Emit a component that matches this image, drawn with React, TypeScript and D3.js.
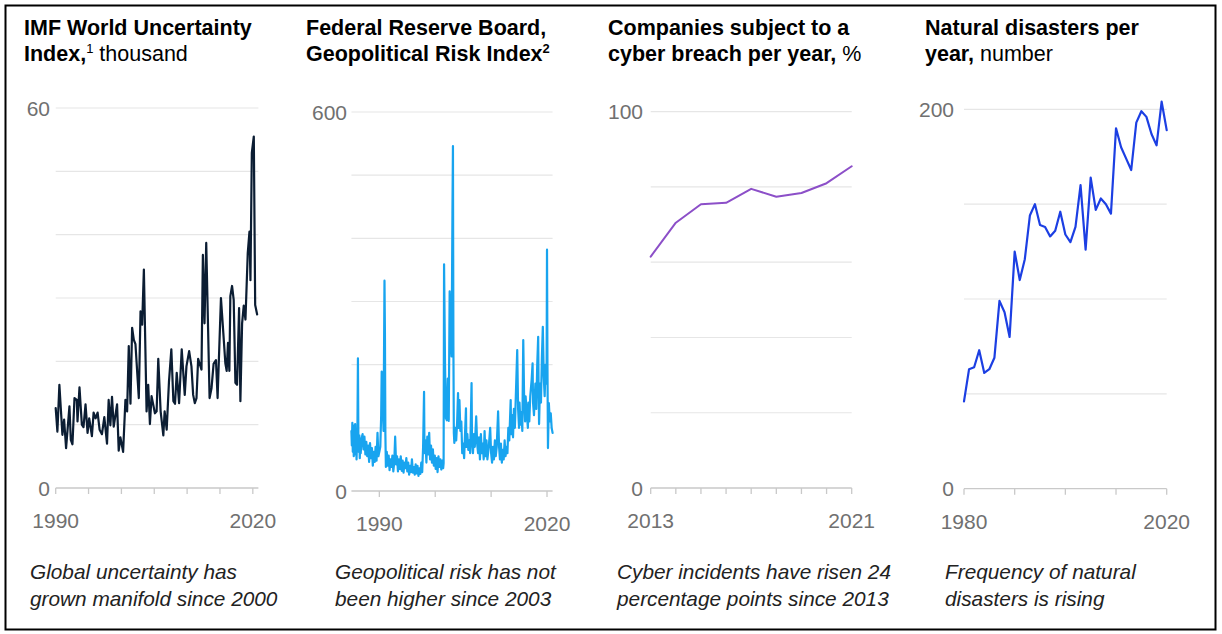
import React from "react";
import * as d3 from "d3";

type Pt = [number, number];

// IMF World Uncertainty Index, thousand — [year, value]
const wuiPoints: Pt[] = [
  [1990.0, 12.6], [1990.26, 8.9], [1990.56, 16.3], [1991.02, 8.4], [1991.28, 10.8], [1991.58, 6.3],
  [1992.09, 12.9], [1992.3, 7.6], [1992.55, 6.9], [1992.86, 14.2], [1993.21, 13.9], [1993.32, 10.5],
  [1993.62, 15.9], [1993.98, 10.0], [1994.23, 9.6], [1994.54, 13.2], [1994.85, 8.7], [1995.1, 11.0],
  [1995.51, 8.2], [1995.77, 11.9], [1996.07, 11.0], [1996.38, 11.9], [1996.68, 9.2], [1997.04, 8.5],
  [1997.4, 11.2], [1997.81, 7.0], [1998.06, 13.9], [1998.32, 9.9], [1998.57, 14.4], [1998.83, 9.7],
  [1999.34, 13.2], [1999.59, 5.9], [1999.85, 8.0], [2000.26, 5.7], [2000.61, 13.9], [2000.87, 12.1],
  [2001.12, 22.4], [2001.38, 13.3], [2001.63, 25.3], [2001.89, 23.4], [2002.14, 22.7], [2002.65, 14.2],
  [2002.91, 27.9], [2003.16, 25.8], [2003.42, 34.5], [2003.83, 12.1], [2004.08, 16.3], [2004.34, 10.1],
  [2004.59, 14.5], [2004.8, 13.4], [2005.1, 11.8], [2005.36, 12.1], [2005.61, 20.4], [2005.97, 12.1],
  [2006.38, 8.3], [2006.58, 12.1], [2006.89, 9.2], [2007.24, 16.8], [2007.6, 21.9], [2007.91, 13.7],
  [2008.16, 13.3], [2008.42, 18.2], [2008.78, 13.4], [2009.18, 21.9], [2009.64, 14.7], [2009.9, 19.2],
  [2010.31, 21.6], [2010.66, 19.2], [2010.92, 14.7], [2011.17, 13.4], [2011.43, 14.2], [2011.68, 20.4],
  [2012.19, 18.7], [2012.4, 36.8], [2012.65, 26.0], [2012.91, 38.7], [2013.42, 14.2], [2013.72, 15.8],
  [2014.03, 19.6], [2014.39, 20.2], [2014.64, 14.2], [2015.15, 30.0], [2015.51, 24.5], [2015.82, 19.7],
  [2016.02, 18.5], [2016.22, 22.9], [2016.43, 18.5], [2016.58, 30.3], [2016.84, 31.9], [2017.09, 29.7],
  [2017.35, 16.6], [2017.6, 16.3], [2017.91, 28.4], [2018.11, 13.7], [2018.37, 26.0], [2018.62, 28.8],
  [2018.88, 26.6], [2019.23, 37.1], [2019.49, 40.5], [2019.64, 32.8], [2019.85, 52.9], [2020.15, 55.5],
  [2020.36, 28.9], [2020.66, 27.4],
];

// Federal Reserve Board, Geopolitical Risk Index — [year, value]
const gprPoints: Pt[] = [
  [1985.0, 95], [1985.08, 72], [1985.17, 108], [1985.25, 62], [1985.33, 104], [1985.42, 55],
  [1985.5, 98], [1985.58, 66], [1985.67, 106], [1985.75, 58], [1985.83, 88], [1985.92, 50],
  [1986.0, 76], [1986.08, 100], [1986.17, 210], [1986.25, 82], [1986.33, 62], [1986.42, 88],
  [1986.5, 52], [1986.58, 76], [1986.67, 60], [1986.83, 84], [1987.0, 90], [1987.17, 66],
  [1987.33, 86], [1987.5, 58], [1987.67, 78], [1987.83, 55], [1988.0, 72], [1988.17, 46],
  [1988.33, 76], [1988.5, 52], [1988.67, 68], [1988.83, 40], [1989.0, 62], [1989.17, 46],
  [1989.33, 70], [1989.5, 48], [1989.67, 92], [1989.83, 55], [1990.0, 62], [1990.17, 70],
  [1990.33, 120], [1990.42, 189], [1990.58, 150], [1990.75, 95], [1990.92, 333], [1991.0, 250],
  [1991.08, 90], [1991.17, 38], [1991.33, 62], [1991.5, 40], [1991.67, 56], [1991.83, 33],
  [1992.0, 50], [1992.17, 38], [1992.33, 56], [1992.5, 31], [1992.67, 46], [1992.83, 86],
  [1993.0, 42], [1993.17, 55], [1993.33, 31], [1993.5, 50], [1993.67, 35], [1993.83, 55],
  [1994.0, 32], [1994.17, 48], [1994.33, 29], [1994.5, 45], [1994.67, 36], [1994.83, 52],
  [1995.0, 31], [1995.17, 45], [1995.33, 26], [1995.5, 40], [1995.67, 30], [1995.83, 50],
  [1996.0, 29], [1996.17, 38], [1996.33, 26], [1996.5, 42], [1996.67, 28], [1996.83, 40],
  [1997.0, 24], [1997.17, 36], [1997.33, 27], [1997.5, 45], [1997.67, 30], [1997.83, 70],
  [1998.0, 157], [1998.08, 60], [1998.25, 80], [1998.42, 45], [1998.58, 86], [1998.75, 58],
  [1998.92, 92], [1999.08, 50], [1999.25, 72], [1999.42, 45], [1999.58, 66], [1999.75, 40],
  [1999.92, 56], [2000.08, 35], [2000.25, 52], [2000.42, 30], [2000.58, 55], [2000.75, 38],
  [2000.92, 50], [2001.08, 34], [2001.25, 48], [2001.42, 36], [2001.5, 44], [2001.58, 359],
  [2001.75, 200], [2001.92, 115], [2002.08, 112], [2002.25, 178], [2002.42, 111], [2002.58, 316],
  [2002.75, 250], [2002.92, 213], [2003.08, 440], [2003.17, 546], [2003.25, 230], [2003.33, 92],
  [2003.42, 76], [2003.58, 100], [2003.75, 80], [2003.92, 110], [2004.08, 155], [2004.17, 100],
  [2004.33, 144], [2004.5, 95], [2004.67, 110], [2004.83, 60], [2005.0, 75], [2005.17, 52],
  [2005.33, 90], [2005.5, 131], [2005.58, 70], [2005.75, 90], [2005.92, 65], [2006.08, 80],
  [2006.25, 60], [2006.5, 171], [2006.58, 80], [2006.75, 60], [2006.92, 90], [2007.08, 70],
  [2007.33, 118], [2007.5, 75], [2007.67, 60], [2007.83, 85], [2008.0, 50], [2008.17, 90],
  [2008.33, 60], [2008.5, 75], [2008.67, 50], [2008.83, 95], [2009.0, 55], [2009.17, 80],
  [2009.33, 50], [2009.58, 70], [2009.83, 100], [2010.0, 60], [2010.17, 45], [2010.33, 70],
  [2010.5, 50], [2010.67, 80], [2010.83, 55], [2011.0, 70], [2011.25, 126], [2011.42, 70],
  [2011.58, 50], [2011.75, 75], [2011.92, 45], [2012.08, 65], [2012.25, 50], [2012.42, 80],
  [2012.58, 55], [2012.75, 70], [2012.92, 60], [2013.08, 100], [2013.25, 80], [2013.5, 144],
  [2013.58, 90], [2013.75, 120], [2013.92, 85], [2014.08, 130], [2014.25, 100], [2014.42, 150],
  [2014.67, 223], [2014.83, 130], [2015.0, 100], [2015.08, 140], [2015.25, 105], [2015.42, 125],
  [2015.58, 95], [2015.75, 239], [2015.92, 140], [2016.08, 110], [2016.17, 150], [2016.33, 128],
  [2016.58, 100], [2016.67, 140], [2016.83, 110], [2017.0, 150], [2017.25, 176], [2017.42, 202],
  [2017.5, 140], [2017.67, 120], [2017.92, 170], [2018.08, 130], [2018.25, 200], [2018.42, 244],
  [2018.5, 160], [2018.58, 106], [2018.75, 170], [2018.92, 140], [2019.08, 210], [2019.25, 260],
  [2019.42, 180], [2019.58, 150], [2019.75, 200], [2019.92, 170], [2020.0, 382], [2020.08, 200],
  [2020.17, 68], [2020.33, 139], [2020.5, 110], [2020.67, 123], [2020.83, 100], [2021.0, 92],
];

// Companies subject to a cyber breach per year, %
const cyberYears = [2013, 2014, 2015, 2016, 2017, 2018, 2019, 2020, 2021];
const cyberValues = [61.5, 70.5, 75.4, 75.8, 79.5, 77.4, 78.4, 81.0, 85.5];

// Natural disasters per year, number
const disasterYears = [
  1980, 1981, 1982, 1983, 1984, 1985, 1986, 1987, 1988, 1989, 1990, 1991, 1992, 1993,
  1994, 1995, 1996, 1997, 1998, 1999, 2000, 2001, 2002, 2003, 2004, 2005, 2006, 2007,
  2008, 2009, 2010, 2011, 2012, 2013, 2014, 2015, 2016, 2017, 2018, 2019, 2020,
];
const disasterValues = [
  46, 63, 64, 73, 61, 63, 69, 99, 93, 80, 125, 110, 121, 144,
  150, 139, 138, 133, 136, 146, 134, 130, 138, 160, 126, 164, 147, 153,
  150, 145, 190, 180, 174, 168, 193, 199, 196, 187, 181, 204, 189,
];

const FONT = "'Liberation Sans', Arial, Helvetica, sans-serif";
const GRID = "#e6e6e6";
const AXIS = "#c9c9c9";
const LABEL = "#707070";

interface Spec {
  key: string;
  titleX: number;
  title: React.ReactNode[];
  captionX: number;
  caption: string[];
  points: Pt[];
  xDomain: [number, number];
  xRange: [number, number];
  yDomain: [number, number];
  yRange: [number, number];
  gridStep: number;
  xTicks: number[];
  xLabels: number[];
  yLabelX: number;
  color: string;
  strokeWidth: number;
}

const panels: Spec[] = [
  {
    key: "wui",
    titleX: 24,
    title: [
      <tspan fontWeight="bold">IMF World Uncertainty</tspan>,
      <>
        <tspan fontWeight="bold">Index,</tspan>
        <tspan fontSize={13} dy={-8}>1</tspan>
        <tspan dy={8}> thousand</tspan>
      </>,
    ],
    captionX: 30,
    caption: ["Global uncertainty has", "grown manifold since 2000"],
    points: wuiPoints,
    xDomain: [1990, 2020.85],
    xRange: [55.7, 258.4],
    yDomain: [0, 60],
    yRange: [488, 108],
    gridStep: 10,
    xTicks: [1990, 1995, 2000, 2005, 2010, 2015, 2020],
    xLabels: [1990, 2020],
    yLabelX: 50,
    color: "#0b1d33",
    strokeWidth: 2.2,
  },
  {
    key: "gpr",
    titleX: 306,
    title: [
      <tspan fontWeight="bold">Federal Reserve Board,</tspan>,
      <>
        <tspan fontWeight="bold">Geopolitical Risk Index</tspan>
        <tspan fontWeight="bold" fontSize={13} dy={-8}>2</tspan>
      </>,
    ],
    captionX: 335,
    caption: ["Geopolitical risk has not", "been higher since 2003"],
    points: gprPoints,
    xDomain: [1985, 2021],
    xRange: [351.4, 552.6],
    yDomain: [0, 600],
    yRange: [491, 112],
    gridStep: 100,
    xTicks: [1990, 2000, 2010, 2020],
    xLabels: [1990, 2020],
    yLabelX: 347,
    color: "#18a4ef",
    strokeWidth: 2.2,
  },
  {
    key: "cyber",
    titleX: 608,
    title: [
      <tspan fontWeight="bold">Companies subject to a</tspan>,
      <>
        <tspan fontWeight="bold">cyber breach per year,</tspan>
        <tspan> %</tspan>
      </>,
    ],
    captionX: 617,
    caption: ["Cyber incidents have risen 24", "percentage points since 2013"],
    points: cyberYears.map((y, i) => [y, cyberValues[i]] as Pt),
    xDomain: [2013, 2021],
    xRange: [650.7, 851.7],
    yDomain: [0, 100],
    yRange: [488, 111.7],
    gridStep: 20,
    xTicks: cyberYears,
    xLabels: [2013, 2021],
    yLabelX: 643,
    color: "#8c4fc8",
    strokeWidth: 2,
  },
  {
    key: "disasters",
    titleX: 925,
    title: [
      <tspan fontWeight="bold">Natural disasters per</tspan>,
      <>
        <tspan fontWeight="bold">year,</tspan>
        <tspan> number</tspan>
      </>,
    ],
    captionX: 945,
    caption: ["Frequency of natural", "disasters is rising"],
    points: disasterYears.map((y, i) => [y, disasterValues[i]] as Pt),
    xDomain: [1980, 2020],
    xRange: [964, 1166.7],
    yDomain: [0, 200],
    yRange: [488.7, 109.3],
    gridStep: 50,
    xTicks: [1980, 1990, 2000, 2010, 2020],
    xLabels: [1980, 2020],
    yLabelX: 954,
    color: "#1c3fe3",
    strokeWidth: 2.2,
  },
];

function Panel({ s }: { s: Spec }) {
  const x = d3.scaleLinear().domain(s.xDomain).range(s.xRange);
  const y = d3.scaleLinear().domain(s.yDomain).range(s.yRange);
  const line = d3
    .line<Pt>()
    .x((d) => x(d[0]))
    .y((d) => y(d[1]));
  const grid = d3.range(s.yDomain[0] + s.gridStep, s.yDomain[1] + 0.001, s.gridStep);
  const y0 = y(0);

  return (
    <g>
      {s.title.map((t, i) => (
        <text key={i} x={s.titleX} y={35 + i * 26} fontSize={21.5} fill="#000">
          {t}
        </text>
      ))}

      {grid.map((g) => (
        <line key={g} x1={s.xRange[0]} x2={s.xRange[1]} y1={y(g)} y2={y(g)} stroke={GRID} strokeWidth={1.2} />
      ))}
      <line x1={s.xRange[0]} x2={s.xRange[1]} y1={y0} y2={y0} stroke={AXIS} strokeWidth={1.3} />
      {s.xTicks.map((t) => (
        <line key={t} x1={x(t)} x2={x(t)} y1={y0} y2={y0 + 6} stroke={AXIS} strokeWidth={1.3} />
      ))}

      <text x={s.yLabelX} y={y(s.yDomain[1])} dy="0.36em" textAnchor="end" fontSize={21} fill={LABEL}>
        {s.yDomain[1]}
      </text>
      <text x={s.yLabelX} y={y0} dy="0.36em" textAnchor="end" fontSize={21} fill={LABEL}>
        0
      </text>
      {s.xLabels.map((t) => (
        <text key={t} x={x(t)} y={y0 + 40} textAnchor="middle" fontSize={21} fill={LABEL}>
          {t}
        </text>
      ))}

      <path
        d={line(s.points) || ""}
        fill="none"
        stroke={s.color}
        strokeWidth={s.strokeWidth}
        strokeLinejoin="round"
        strokeLinecap="round"
      />

      {s.caption.map((c, i) => (
        <text key={i} x={s.captionX} y={579 + i * 27} fontSize={20.8} fontStyle="italic" fill="#222">
          {c}
        </text>
      ))}
    </g>
  );
}

export default function App() {
  return (
    <div style={{ position: "absolute", left: 0, top: 0, background: "#fff" }}>
      <svg width={1222} height={634} fontFamily={FONT} style={{ display: "block" }}>
        <rect x={0} y={0} width={1222} height={634} fill="#fff" />
        <rect x={5.5} y={5.5} width={1210} height={624} fill="none" stroke="#000" strokeWidth={2} />
        {panels.map((s) => (
          <Panel key={s.key} s={s} />
        ))}
      </svg>
    </div>
  );
}
